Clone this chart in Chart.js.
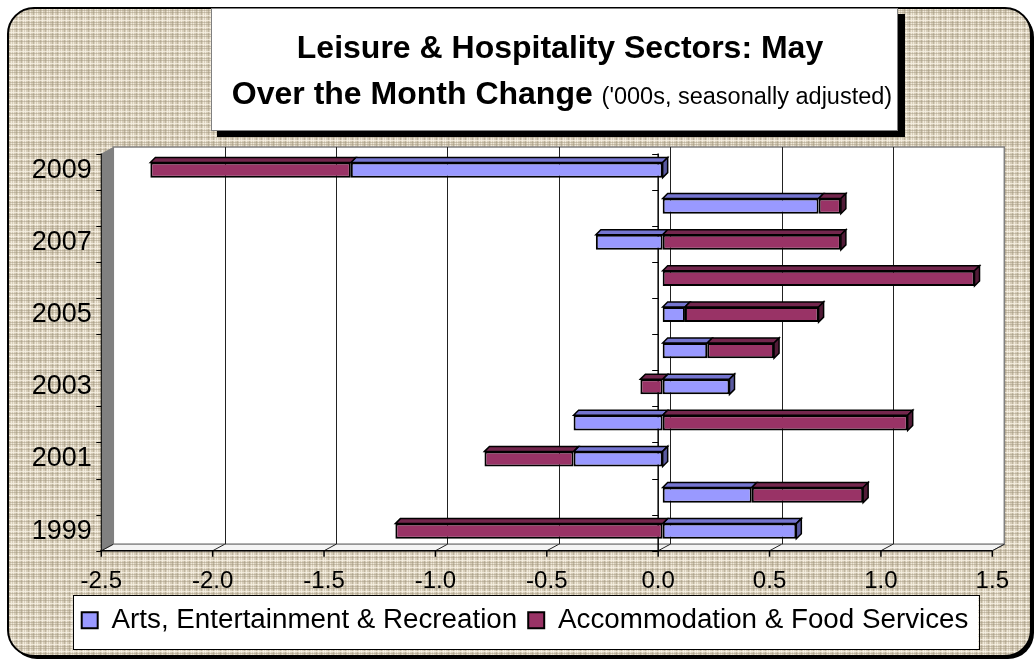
<!DOCTYPE html>
<html><head><meta charset="utf-8">
<script src="https://cdn.jsdelivr.net/npm/chart.js@4.4.1/dist/chart.umd.min.js"></script>
<style>html,body{margin:0;padding:0;background:#fff;overflow:hidden}canvas{display:block}</style>
</head><body>
<canvas id="c" width="1034" height="662"></canvas>
<script>
// ---- data ----
const years = ['1999','2000','2001','2002','2003','2004','2005','2006','2007','2008','2009'];
const artsValues  = [0.6, 0.4, -0.4, -0.4, 0.3, 0.2, 0.1, 0.0, -0.3, 0.7, -1.4];
const accomValues = [-1.2, 0.5, -0.4, 1.1, -0.1, 0.3, 0.6, 1.4, 0.8, 0.1, -0.9];
const xTickValues = [-2.5, -2.0, -1.5, -1.0, -0.5, 0.0, 0.5, 1.0, 1.5];
const seriesNames = ['Arts, Entertainment & Recreation', 'Accommodation & Food Services'];
const titleLine1 = 'Leisure & Hospitality Sectors: May';
const titleLine2 = 'Over the Month Change';
const titleNote = "('000s, seasonally adjusted)";

const FONT = "'Liberation Sans', Arial, Helvetica, sans-serif";
Chart.defaults.font.family = FONT;
Chart.defaults.color = '#000';

function makeTexture() {
  const t = document.createElement('canvas'); t.width = 12; t.height = 12;
  const g = t.getContext('2d');
  g.fillStyle = 'rgb(216,206,186)'; g.fillRect(0, 0, 12, 12);
  const light = 'rgba(248,242,228,0.75)', dark = 'rgba(160,148,124,0.45)';
  [[1, light], [4, dark], [6, light], [9, dark], [11, light]].forEach(([i, c]) => {
    g.fillStyle = c; g.fillRect(i, 0, 1, 12);
  });
  [[0, dark], [3, light], [5, dark], [8, light], [10, dark]].forEach(([i, c]) => {
    g.fillStyle = c; g.fillRect(0, i, 12, 1);
  });
  return t;
}
const texture = makeTexture();

const FRONT = {dx: -4.5, dy: 1.5};
const BACK = {dx: 7.5, dy: -5};

const decor = {
  id: 'decor',
  afterLayout(chart) {
    const lg = chart.legend;
    const p = lg.options.labels.padding;
    const start = (lg.left + p + lg.right - lg.lineWidths[0]) / 2;
    const shift = 81.7 - start;
    lg.left += shift; lg.right += shift;
    chart.$legendBox = {x0: 81.7 - 9, x1: 81.7 + lg.lineWidths[0] - p + 10, y0: lg.top, y1: lg.top + 54};
  },
  beforeDraw(chart) {
    const ctx = chart.ctx;
    const W = chart.width, H = chart.height;
    ctx.save();
    ctx.fillStyle = '#fff'; ctx.fillRect(0, 0, W, H);
    // outer rounded frame
    ctx.fillStyle = '#000';
    ctx.beginPath(); ctx.roundRect(11, 11, 1023, 648, 26); ctx.fill();
    ctx.beginPath(); ctx.roundRect(8, 8, 1023, 648, 26);
    ctx.fillStyle = ctx.createPattern(texture, 'repeat'); ctx.fill();
    ctx.lineWidth = 2; ctx.strokeStyle = '#000'; ctx.stroke();

    // title box
    ctx.fillStyle = '#000'; ctx.fillRect(217, 14, 688, 123);
    ctx.fillStyle = '#fff'; ctx.fillRect(211, 8, 687, 123);
    ctx.strokeStyle = '#808080'; ctx.lineWidth = 1; ctx.strokeRect(211.5, 8.5, 686, 122);
    ctx.fillStyle = '#000'; ctx.textBaseline = 'alphabetic';
    ctx.font = 'bold 32px ' + FONT; ctx.textAlign = 'center';
    ctx.fillText(titleLine1, 560, 58);
    const w2 = ctx.measureText(titleLine2 + ' ').width;
    ctx.font = '23.5px ' + FONT;
    const w3 = ctx.measureText(titleNote).width;
    const sx = 562 - (w2 + w3) / 2;
    ctx.textAlign = 'left';
    ctx.font = 'bold 32px ' + FONT; ctx.fillText(titleLine2, sx, 104);
    ctx.font = '23.5px ' + FONT; ctx.fillText(titleNote, sx + w2, 104);

    // legend box
    const lb = chart.$legendBox;
    if (lb) {
      ctx.fillStyle = '#fff'; ctx.fillRect(lb.x0, lb.y0, lb.x1 - lb.x0, lb.y1 - lb.y0);
      ctx.strokeStyle = '#000'; ctx.lineWidth = 1;
      ctx.strokeRect(Math.round(lb.x0) + 0.5, Math.round(lb.y0) + 0.5, Math.round(lb.x1 - lb.x0), Math.round(lb.y1 - lb.y0));
    }

    // 3D walls
    const xs = chart.scales.x, ca = chart.chartArea;
    const P = v => xs.getPixelForValue(v);
    const vmin = xTickValues[0], vmax = xTickValues[xTickValues.length - 1];
    const fT = ca.top + FRONT.dy, fB = ca.bottom + FRONT.dy;
    const bT = ca.top + BACK.dy, bB = ca.bottom + BACK.dy;
    const fx = v => P(v) + FRONT.dx, bx = v => P(v) + BACK.dx;
    // back wall
    ctx.fillStyle = '#fff';
    ctx.fillRect(bx(vmin), bT, bx(vmax) - bx(vmin), bB - bT);
    ctx.strokeStyle = '#808080'; ctx.lineWidth = 1.5;
    ctx.strokeRect(bx(vmin), bT, bx(vmax) - bx(vmin), bB - bT);
    // left wall
    ctx.beginPath();
    ctx.moveTo(fx(vmin), fT); ctx.lineTo(bx(vmin), bT); ctx.lineTo(bx(vmin), bB); ctx.lineTo(fx(vmin), fB); ctx.closePath();
    ctx.fillStyle = '#808080'; ctx.fill();
    // floor
    ctx.beginPath();
    ctx.moveTo(fx(vmin), fB); ctx.lineTo(bx(vmin), bB); ctx.lineTo(bx(vmax), bB); ctx.lineTo(fx(vmax), fB); ctx.closePath();
    ctx.fillStyle = '#f4f4f4'; ctx.fill();
    ctx.strokeStyle = '#808080'; ctx.lineWidth = 1; ctx.stroke();
    // gridlines on back wall + floor
    ctx.strokeStyle = '#222'; ctx.lineWidth = 1;
    xTickValues.forEach(v => {
      const xb = Math.round(bx(v)) + 0.5;
      if (v > vmin && v < vmax) {
        ctx.beginPath(); ctx.moveTo(xb, bT); ctx.lineTo(xb, bB); ctx.stroke();
      }
      ctx.beginPath(); ctx.moveTo(fx(v), fB); ctx.lineTo(bx(v), bB); ctx.stroke();
    });
    // front bottom axis line + ticks
    ctx.strokeStyle = '#000'; ctx.lineWidth = 1.5;
    ctx.beginPath(); ctx.moveTo(fx(vmin) - 1, fB); ctx.lineTo(fx(vmax), fB); ctx.stroke();
    xTickValues.forEach(v => {
      ctx.beginPath(); ctx.moveTo(fx(v), fB); ctx.lineTo(fx(v), fB + 6); ctx.stroke();
    });
    // left axis edge + category ticks
    const n = years.length, band = (fB - fT) / n;
    ctx.lineWidth = 1;
    ctx.beginPath(); ctx.moveTo(fx(vmin), fT); ctx.lineTo(fx(vmin), fB); ctx.stroke();
    for (let k = 0; k <= n; k++) {
      const y = Math.round(fT + k * band) + 0.5;
      ctx.beginPath(); ctx.moveTo(fx(vmin) - 5, y); ctx.lineTo(fx(vmin), y); ctx.stroke();
    }
    // zero category axis
    const x0 = fx(0);
    ctx.lineWidth = 1.5;
    ctx.beginPath(); ctx.moveTo(x0, fT); ctx.lineTo(x0, fB); ctx.stroke();
    ctx.lineWidth = 1;
    for (let k = 0; k <= n; k++) {
      const y = Math.round(fT + k * band) + 0.5;
      ctx.beginPath(); ctx.moveTo(x0 - 6, y); ctx.lineTo(x0, y); ctx.stroke();
    }
    ctx.restore();
  },
  afterDatasetsDraw(chart) {
    const ctx = chart.ctx, d = 5;
    const metas = [0, 1].map(i => chart.getDatasetMeta(i));
    const shades = [{top: '#7575d0', side: '#5a5aa0'}, {top: '#73264d', side: '#521b37'}];
    ctx.save();
    ctx.lineWidth = 1.5; ctx.strokeStyle = '#000'; ctx.lineJoin = 'miter';
    for (let i = 0; i < years.length; i++) {
      let best = null, bestR = -Infinity;
      metas.forEach((m, k) => {
        const el = m.data[i];
        const l = Math.min(el.x, el.base), r = Math.max(el.x, el.base);
        if (r - l < 0.5) return;
        const t = el.y - el.height / 2, b = el.y + el.height / 2;
        ctx.beginPath();
        ctx.moveTo(l, t); ctx.lineTo(l + d, t - d); ctx.lineTo(r + d, t - d); ctx.lineTo(r, t); ctx.closePath();
        ctx.fillStyle = shades[k].top; ctx.fill(); ctx.stroke();
        if (r > bestR) { bestR = r; best = {k, r, t, b}; }
      });
      if (best) {
        const {k, r, t, b} = best;
        ctx.beginPath();
        ctx.moveTo(r, t); ctx.lineTo(r + d, t - d); ctx.lineTo(r + d, b - d); ctx.lineTo(r, b); ctx.closePath();
        ctx.fillStyle = shades[k].side; ctx.fill(); ctx.stroke();
      }
    }
    ctx.restore();
  }
};

new Chart(document.getElementById('c'), {
  type: 'bar',
  data: {
    labels: years,
    datasets: [
      {label: seriesNames[0], data: artsValues, backgroundColor: '#9999FF', borderColor: '#000', borderWidth: 2, borderSkipped: false},
      {label: seriesNames[1], data: accomValues, backgroundColor: '#993366', borderColor: '#000', borderWidth: 2, borderSkipped: false}
    ]
  },
  options: {
    indexAxis: 'y',
    responsive: false,
    animation: false,
    devicePixelRatio: 1,
    layout: {padding: {top: 152, right: 37.2, left: 0, bottom: 18}},
    datasets: {bar: {barPercentage: 0.42, categoryPercentage: 1}},
    scales: {
      x: {
        type: 'linear', stacked: true, min: -2.5, max: 1.5,
        grid: {display: false, drawTicks: false}, border: {display: false},
        afterBuildTicks: s => { s.ticks = xTickValues.map(v => ({value: v})); },
        afterFit: s => { s.height = 46; },
        ticks: {font: {size: 24}, color: '#000', padding: 18, labelOffset: FRONT.dx, autoSkip: false, maxRotation: 0,
                callback: v => Number(v).toFixed(1)}
      },
      y: {
        stacked: true, reverse: true,
        grid: {display: false, drawTicks: false}, border: {display: false},
        afterFit: s => { s.width = 105.8; },
        ticks: {font: {size: 27}, color: '#000', padding: 14, autoSkip: false,
                callback: (v, i) => (i % 2 === 0 ? years[i] : '')}
      }
    },
    plugins: {
      title: {display: false},
      tooltip: {enabled: false},
      legend: {
        position: 'bottom',
        labels: {font: {size: 27.75}, color: '#000', boxWidth: 16, boxHeight: 16, padding: 11}
      }
    }
  },
  plugins: [decor]
});
</script>
</body></html>
